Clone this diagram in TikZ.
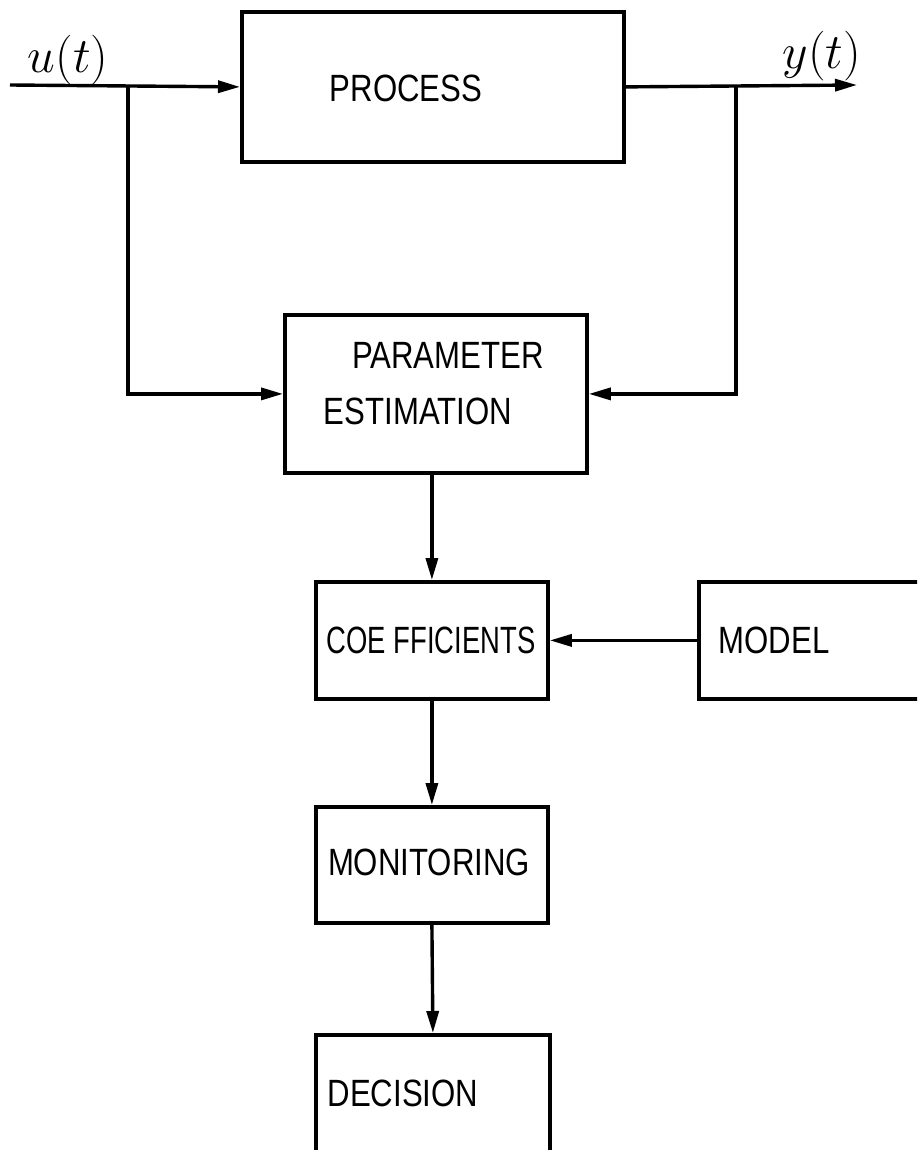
\documentclass[tikz,border=0pt]{standalone}
\usepackage{fontspec}
\setmainfont{Liberation Sans}[FakeStretch=0.82]
\usetikzlibrary{arrows.meta}
\begin{document}
\begin{tikzpicture}[x=0.5pt,y=-0.5pt,
  box/.style={draw,line width=1.9pt,inner sep=0pt,anchor=north west},
  lbl/.style={inner sep=0pt,font=\fontsize{19}{21}\selectfont},
  sig/.style={inner sep=0pt,font=\fontsize{25}{27}\selectfont},
  conn/.style={line width=1.7pt},
  arr/.style={conn,-{Triangle[length=11pt,width=6pt]}},
  ]
\useasboundingbox (0,0) rectangle (917,1150);
\clip (0,0) rectangle (917,1150);
% boxes
\node[box,minimum width=191pt,minimum height=75pt] (proc) at (240,10) {};
\node[box,minimum width=151pt,minimum height=79pt] (param) at (283,313) {};
\node[box,minimum width=116pt,minimum height=58.5pt] (coef) at (314,580) {};
\node[box,minimum width=130pt,minimum height=58.5pt] (model) at (697,580) {};
\node[box,minimum width=116pt,minimum height=58pt] (mon) at (314,805) {};
\node[box,minimum width=117pt,minimum height=70pt] (dec) at (314,1033) {};
% texts
\node[lbl] (tproc) at (406,88) {PROCESS};
\node[lbl] (tparam1) at (448,355) {PARAMETER};
\node[lbl] (tparam2) at (418,411) {ESTIMATION};
\node[lbl] (tcoef) at (431,640) {\scalebox{0.88}[1]{COE FFICIENTS}};
\node[lbl] (tmodel) at (774,640) {MODEL};
\node[lbl] (tmon) at (429,862) {MONITORING};
\node[lbl] (tdec) at (403,1093) {DECISION};
\node[sig] (tu) at (68,60) {$u(t)$};
\node[sig] (ty) at (822,56) {$y(t)$};
% signal coordinates
\coordinate (in) at (10,85);
\coordinate (out) at (857,85);
\coordinate (bu) at (128,85);
\coordinate (by) at (736,85);
% connectors
\draw[arr] (in) -- (proc.west);
\draw[arr] (proc.east) -- (out);
\draw[arr] (bu) |- (param.west);
\draw[arr] (by) |- (param.east);
\draw[arr] (param.south -| coef.north) -- (coef.north);
\draw[arr] (model.west) -- (coef.east);
\draw[arr] (coef.south) -- (mon.north);
\draw[arr] (mon.south) -- (dec.north);
\end{tikzpicture}
\end{document}
